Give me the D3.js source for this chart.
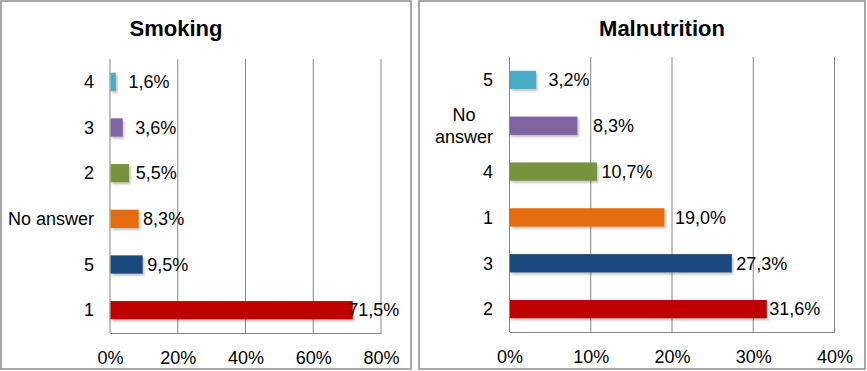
<!DOCTYPE html>
<html><head><meta charset="utf-8">
<script src="https://cdn.jsdelivr.net/npm/d3@7"></script>
<style>body{margin:0;background:#fff}svg{display:block;font-family:"Liberation Sans",Arial,sans-serif}</style>
</head><body><svg id="c" width="867" height="371"></svg>
<script>
const smokingCategories = ["4","3","2","No answer","5","1"];
const smokingValues = [1.6, 3.6, 5.5, 8.3, 9.5, 71.5];
const smokingColors = ["#4BACC6","#8064A2","#77933C","#E46C0A","#1F497D","#C00000"];
const smokingTicks = [0,20,40,60,80];

const malCategories = ["5","No answer","4","1","3","2"];
const malValues = [3.2, 8.3, 10.7, 19.0, 27.3, 31.6];
const malColors = ["#4BACC6","#8064A2","#77933C","#E46C0A","#1F497D","#C00000"];
const malTicks = [0,10,20,30,40];

const svg = d3.select("#c");
const defs = svg.append("defs");
const f = defs.append("filter").attr("id","sh").attr("x","-10%").attr("y","-30%").attr("width","130%").attr("height","180%");
f.append("feDropShadow").attr("dx",1.5).attr("dy",2).attr("stdDeviation",1.2).attr("flood-color","#000").attr("flood-opacity",0.25);

function panel(opt){
  const g = svg.append("g");
  g.append("rect").attr("x",opt.box[0]).attr("y",opt.box[1]).attr("width",opt.box[2]).attr("height",opt.box[3])
    .attr("fill","#fff").attr("stroke","#8c8c8c").attr("stroke-width",1.5);
  g.append("text").attr("x",opt.titleX).attr("y",36).attr("text-anchor","middle")
    .attr("font-weight","bold").attr("font-size",22).attr("fill","#000").text(opt.title);
  const x = d3.scaleLinear().domain([0, d3.max(opt.ticks)]).range([opt.x0, opt.x1]);
  const y = d3.scaleBand().domain(opt.cats).range([opt.y0, opt.y1]).paddingInner(0.6).paddingOuter(0.3);
  // gridlines
  g.selectAll(".grid").data(opt.ticks.slice(1)).join("line")
    .attr("x1",d=>x(d)).attr("x2",d=>x(d)).attr("y1",opt.y0).attr("y2",opt.y1)
    .attr("stroke","#868686").attr("stroke-width",1);
  // x axis
  const ax = g.append("g").attr("transform",`translate(0,${opt.y1})`)
    .call(d3.axisBottom(x).tickValues(opt.ticks).tickFormat(d=>d+"%").tickSize(0).tickPadding(18));
  ax.select(".domain").attr("stroke","#868686");
  ax.selectAll("text").attr("font-size",18).attr("fill","#000").attr("font-family","Liberation Sans, Arial, sans-serif");
  // y axis line
  g.append("line").attr("x1",opt.x0).attr("x2",opt.x0).attr("y1",opt.y0).attr("y2",opt.y1).attr("stroke","#868686");
  // bars
  g.selectAll(".bar").data(opt.vals).join("rect")
    .attr("x",x(0)+0.5).attr("y",(d,i)=>y(opt.cats[i]))
    .attr("width",d=>x(d)-x(0)).attr("height",y.bandwidth())
    .attr("fill",(d,i)=>opt.colors[i]).attr("filter","url(#sh)");
  // value labels
  g.selectAll(".lbl").data(opt.vals).join("text")
    .attr("x",(d,i)=>x(d)+opt.labelDx[i]).attr("y",(d,i)=>y(opt.cats[i])+y.bandwidth()/2)
    .attr("dy","0.35em").attr("font-size",18).attr("fill","#000")
    .text(d=>d.toFixed(1).replace(".",",")+"%");
  // category labels
  opt.cats.forEach((c,i)=>{
    const cy = y(c)+y.bandwidth()/2;
    const lines = (opt.wrap && c.indexOf(" ")>0) ? c.split(" ") : [c];
    const t = g.append("text").attr("font-size",18).attr("fill","#000");
    if(lines.length===1){
      t.attr("x",opt.labelRight).attr("y",cy).attr("dy","0.35em").attr("text-anchor","end").text(c);
    } else {
      const tmp = g.append("text").attr("font-size",18).text(d3.greatest(lines,l=>l.length));
      const w = tmp.node().getComputedTextLength(); tmp.remove();
      const cx = opt.labelRight - w/2;
      lines.forEach((l,k)=>{
        t.append("tspan").attr("x",cx).attr("text-anchor","middle")
          .attr("y",cy + (k-(lines.length-1)/2)*22).attr("dy","0.35em").text(l);
      });
    }
  });
}

panel({box:[1,1,410,368], title:"Smoking", titleX:176, cats:smokingCategories, vals:smokingValues,
  colors:smokingColors, ticks:smokingTicks, x0:110, x1:381, y0:59, y1:333, labelRight:94,
  labelDx:[13,13,7,5,5,-4], wrap:false});
panel({box:[419,1,446,368], title:"Malnutrition", titleX:662, cats:malCategories, vals:malValues,
  colors:malColors, ticks:malTicks, x0:509.5, x1:834.5, y0:57, y1:332, labelRight:493,
  labelDx:[13,16,5,11,5,3], wrap:true});
</script></body></html>
